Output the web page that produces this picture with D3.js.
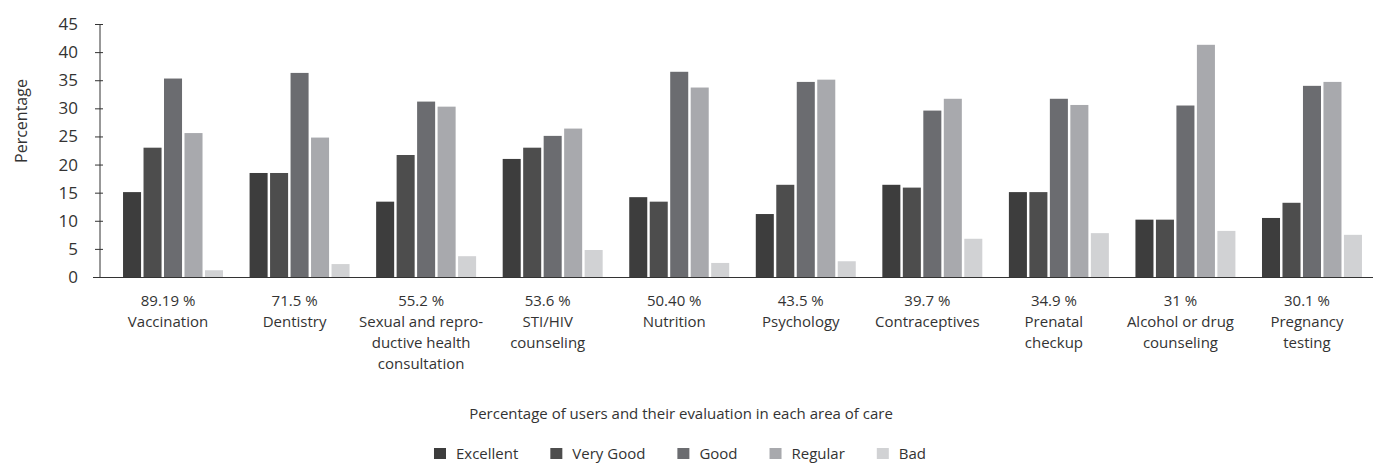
<!DOCTYPE html>
<html>
<head>
<meta charset="utf-8">
<script src="https://cdn.jsdelivr.net/npm/d3@7"></script>
<style>
  body { margin: 0; background: #fff; }
  svg text { font-family: "Open Sans", sans-serif; fill: #333; }
</style>
</head>
<body>
<svg width="1378" height="474"></svg>
<script>
const shares = ["89.19 %", "71.5 %", "55.2 %", "53.6 %", "50.40 %", "43.5 %", "39.7 %", "34.9 %", "31 %", "30.1 %"];
const areas = [
  ["Vaccination"],
  ["Dentistry"],
  ["Sexual and repro-", "ductive health", "consultation"],
  ["STI/HIV", "counseling"],
  ["Nutrition"],
  ["Psychology"],
  ["Contraceptives"],
  ["Prenatal", "checkup"],
  ["Alcohol or drug", "counseling"],
  ["Pregnancy", "testing"]
];
const ratings = ["Excellent", "Very Good", "Good", "Regular", "Bad"];
const excellent = [15.1, 18.5, 13.4, 21.0, 14.2, 11.2, 16.4, 15.1, 10.2, 10.5];
const veryGood = [23.0, 18.5, 21.7, 23.0, 13.4, 16.4, 15.9, 15.1, 10.2, 13.2];
const good = [35.3, 36.3, 31.2, 25.1, 36.5, 34.7, 29.6, 31.7, 30.5, 34.0];
const regular = [25.6, 24.8, 30.3, 26.4, 33.7, 35.1, 31.7, 30.6, 41.3, 34.7];
const bad = [1.2, 2.3, 3.7, 4.8, 2.5, 2.8, 6.8, 7.8, 8.2, 7.5];
const yTicks = [0, 5, 10, 15, 20, 25, 30, 35, 40, 45];
const colors = ["#3d3d3d", "#4d4d4d", "#6b6c70", "#a8a9ad", "#d1d2d4"];

const seriesValues = [excellent, veryGood, good, regular, bad];
const data = shares.map((s, i) => ({
  key: i,
  share: s,
  lines: areas[i],
  values: ratings.map((r, j) => ({ rating: r, value: seriesValues[j][i] }))
}));

const svg = d3.select("svg");

// x axis starts a bit before the y axis, bars are shifted right of the label centres
const x0 = d3.scaleBand()
  .domain(data.map((d) => d.key))
  .range([100, 1385])
  .paddingInner(0.21)
  .paddingOuter(0.182);

const x1 = d3.scaleBand()
  .domain(ratings)
  .range([0, x0.bandwidth()])
  .paddingInner(0.12);

const y = d3.scaleLinear().domain([0, 45]).range([277, 24]);

const color = d3.scaleOrdinal().domain(ratings).range(colors);

// y axis
const yAxisGroup = svg.append("g")
  .attr("transform", "translate(100,0)")
  .call(d3.axisLeft(y).tickValues(yTicks).tickSize(5).tickPadding(17));
yAxisGroup.select(".domain").attr("stroke", "#333").attr("d", `M0,${y(45)}V${y(0)}`);
yAxisGroup.selectAll(".tick line").attr("stroke", "#333").attr("x2", -5).attr("x1", 3);
yAxisGroup.selectAll(".tick text")
  .style("font-size", "17px")
  .style("font-family", "'Open Sans', sans-serif")
  .attr("fill", "#333");

svg.append("text")
  .attr("transform", "translate(27,121) rotate(-90)")
  .attr("text-anchor", "middle")
  .style("font-size", "16px")
  .text("Percentage");

// bars
const groups = svg.append("g")
  .selectAll("g")
  .data(data)
  .enter()
  .append("g")
  .attr("transform", (d) => `translate(${x0(d.key)},0)`);

groups.selectAll("rect")
  .data((d) => d.values)
  .enter()
  .append("rect")
  .attr("x", (d) => x1(d.rating))
  .attr("width", x1.bandwidth())
  .attr("y", (d) => y(d.value))
  .attr("height", (d) => y(0) - y(d.value))
  .attr("fill", (d) => color(d.rating));

// baseline
svg.append("line")
  .attr("x1", 93)
  .attr("x2", 1373)
  .attr("y1", y(0) + 0.5)
  .attr("y2", y(0) + 0.5)
  .attr("stroke", "#333")
  .attr("stroke-width", 1.2);

// category labels
const labels = svg.append("g")
  .selectAll("text")
  .data(data)
  .enter()
  .append("text")
  .attr("text-anchor", "middle")
  .style("font-size", "15px")
  .attr("transform", (d) => `translate(${x0(d.key) + x0.bandwidth() / 2 - 5},306)`);

labels.append("tspan").attr("x", 0).attr("y", 0).text((d) => d.share);
labels.selectAll("tspan.line")
  .data((d) => d.lines)
  .enter()
  .append("tspan")
  .attr("class", "line")
  .attr("x", 0)
  .attr("y", (d, i) => 21 * (i + 1))
  .text((d) => d);

svg.append("text")
  .attr("x", 681)
  .attr("y", 419)
  .attr("text-anchor", "middle")
  .style("font-size", "15px")
  .text("Percentage of users and their evaluation in each area of care");

// legend
const legend = svg.append("g");
let lx = 0;
ratings.forEach((r) => {
  const item = legend.append("g").attr("transform", `translate(${lx},0)`);
  item.append("rect")
    .attr("x", 0)
    .attr("y", 448)
    .attr("width", 12)
    .attr("height", 11)
    .attr("fill", color(r));
  const t = item.append("text")
    .attr("x", 22)
    .attr("y", 458.5)
    .style("font-size", "15px")
    .text(r);
  lx += 22 + t.node().getComputedTextLength() + 32;
});
const legendWidth = lx - 32;
legend.attr("transform", `translate(${680 - legendWidth / 2},0)`);
</script>
</body>
</html>
